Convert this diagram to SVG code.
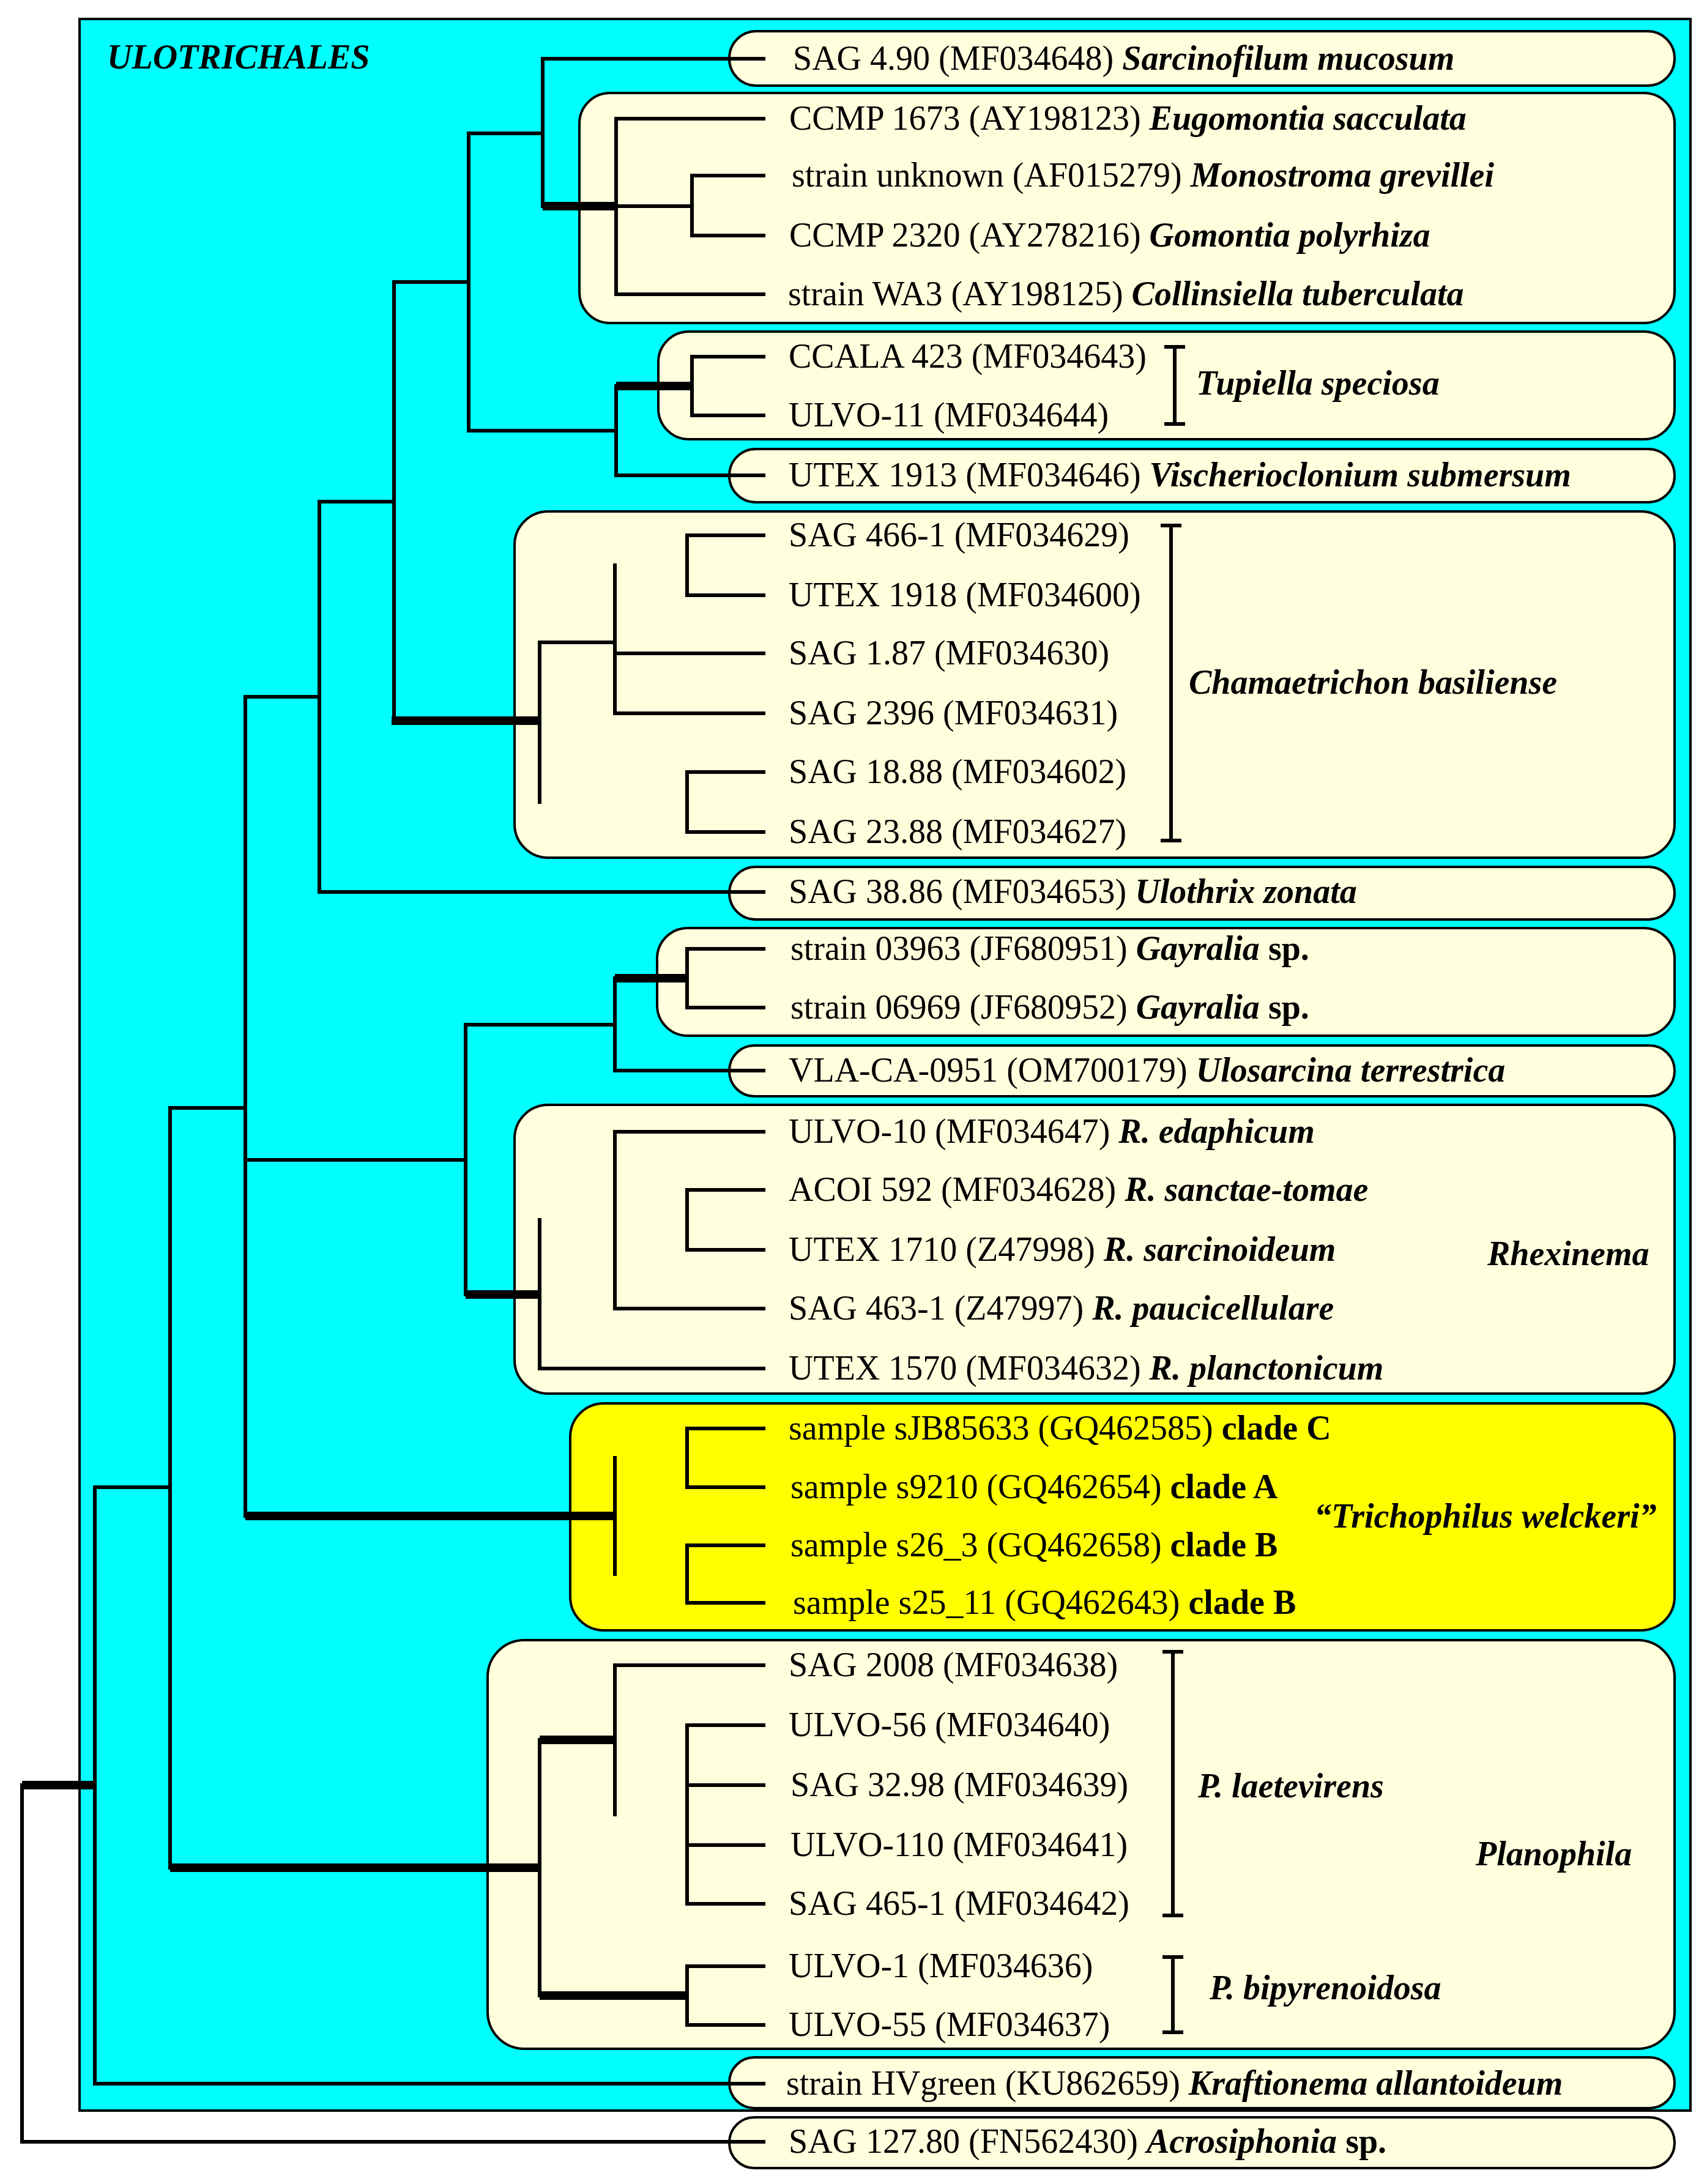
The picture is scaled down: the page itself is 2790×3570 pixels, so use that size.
<svg xmlns="http://www.w3.org/2000/svg" width="2790" height="3570" viewBox="0 0 2790 3570">
<style>
.box{fill:#FFFFDD;stroke:#000;stroke-width:4}
.ybox{fill:#FFFF00;stroke:#000;stroke-width:4}
.t{font-family:"Liberation Serif",serif;font-size:56px;fill:#000}
.s{font-weight:bold;font-style:italic}
.b{font-weight:bold}
.e path{fill:none;stroke:#000;stroke-width:6;stroke-linecap:square}
.e .k{stroke-width:14;stroke-linecap:butt}
</style>
<rect x="0" y="0" width="2790" height="3570" fill="#fff"/>
<rect id="ulotrichales" x="130" y="31" width="2633" height="3419" fill="#00FFFF" stroke="#000" stroke-width="4"/>
<text class="t s" x="175" y="112">ULOTRICHALES</text>
<g id="boxes">
<rect id="bA" class="box" x="1192" y="51" width="1545" height="89" rx="44"/>
<rect id="bB" class="box" x="947" y="152" width="1790" height="376" rx="50"/>
<rect id="bC" class="box" x="1076" y="542" width="1661" height="176" rx="50"/>
<rect id="bD" class="box" x="1192" y="734" width="1545" height="87" rx="43"/>
<rect id="bE" class="box" x="841" y="836" width="1896" height="566" rx="55"/>
<rect id="bF" class="box" x="1192" y="1417" width="1545" height="86" rx="43"/>
<rect id="bG" class="box" x="1074" y="1517" width="1663" height="176" rx="50"/>
<rect id="bH" class="box" x="1192" y="1709" width="1545" height="83" rx="41"/>
<rect id="bI" class="box" x="841" y="1806" width="1896" height="472" rx="55"/>
<rect id="bJ" class="ybox" x="932" y="2294" width="1805" height="371" rx="55"/>
<rect id="bK" class="box" x="797" y="2681" width="1940" height="668" rx="60"/>
<rect id="bL" class="box" x="1192" y="3363" width="1545" height="83" rx="41"/>
<rect id="bM" class="box" x="1192" y="3461" width="1545" height="83" rx="41"/>
</g>
<g id="connectors" class="e">
<path d="M887,96V337M1007,194V481M1131,287V385M1131,583V679M1007,631V777M766,218V704M882,1050V1311M1005,924V1166M1123,875V973M1123,1262V1360M644,461V1178M522,820V1458M1123,1551V1647M1005,1599V1750M1123,1945V2043M1005,1850V2139M882,1994V2237M761,1675V2116M1123,2335V2431M1123,2526V2620M1005,2383V2573M401,1139V2478M1123,2820V3112M1005,2722V2966M1123,3214V3310M882,2844V3262M278,1811V3053M155,2431V3406M36,2918V3501"/>
<path d="M766,218H887M1007,337H1131M1007,704H766M644,461H766M522,820H644M401,1139H522M761,1675H1005M278,1811H401M882,1050H1005M401,1896H761M155,2431H278"/>
<path class="k" d="M887,337H1007M1007,631H1131M640,1178H882M1005,1599H1123M761,2116H882M401,2478H1005M882,2844H1005M882,3262H1123M278,3053H882M36,2918H155"/>
<path d="M887,96H1248M1007,194H1248M1131,287H1248M1131,385H1248M1007,481H1248M1131,583H1248M1131,679H1248M1007,777H1248M1123,875H1248M1123,973H1248M1005,1068H1248M1005,1166H1248M1123,1262H1248M1123,1360H1248M522,1458H1248M1123,1551H1248M1123,1647H1248M1005,1750H1248M1005,1850H1248M1123,1945H1248M1123,2043H1248M1005,2139H1248M882,2237H1248M1123,2335H1248M1123,2431H1248M1123,2526H1248M1123,2620H1248M1005,2722H1248M1123,2820H1248M1123,2918H1248M1123,3016H1248M1123,3112H1248M1123,3214H1248M1123,3310H1248M155,3406H1248M36,3501H1248"/>
<path d="M1920,567V693M1906,567H1934M1906,693H1934M1914,859V1374M1900,859H1928M1900,1374H1928M1917,2700V3131M1903,2700H1931M1903,3131H1931M1917,3199V3322M1903,3199H1931M1903,3322H1931"/>
</g>
<g id="labels" class="t">
<text x="1296" y="114">SAG 4.90 (MF034648) <tspan class="s">Sarcinofilum mucosum</tspan></text>
<text x="1290" y="212">CCMP 1673 (AY198123) <tspan class="s">Eugomontia sacculata</tspan></text>
<text x="1294" y="305">strain unknown (AF015279) <tspan class="s">Monostroma grevillei</tspan></text>
<text x="1290" y="403">CCMP 2320 (AY278216) <tspan class="s">Gomontia polyrhiza</tspan></text>
<text x="1288" y="499">strain WA3 (AY198125) <tspan class="s">Collinsiella tuberculata</tspan></text>
<text x="1289" y="601">CCALA 423 (MF034643)</text>
<text x="1289" y="697">ULVO-11 (MF034644)</text>
<text x="1955" y="645" class="s">Tupiella speciosa</text>
<text x="1289" y="795">UTEX 1913 (MF034646) <tspan class="s">Vischerioclonium submersum</tspan></text>
<text x="1289" y="893">SAG 466-1 (MF034629)</text>
<text x="1289" y="991">UTEX 1918 (MF034600)</text>
<text x="1289" y="1086">SAG 1.87 (MF034630)</text>
<text x="1289" y="1184">SAG 2396 (MF034631)</text>
<text x="1289" y="1280">SAG 18.88 (MF034602)</text>
<text x="1289" y="1378">SAG 23.88 (MF034627)</text>
<text x="1943" y="1134" class="s">Chamaetrichon basiliense</text>
<text x="1289" y="1476">SAG 38.86 (MF034653) <tspan class="s">Ulothrix zonata</tspan></text>
<text x="1292" y="1569">strain 03963 (JF680951) <tspan class="s">Gayralia</tspan><tspan class="b"> sp.</tspan></text>
<text x="1292" y="1665">strain 06969 (JF680952) <tspan class="s">Gayralia</tspan><tspan class="b"> sp.</tspan></text>
<text x="1289" y="1768">VLA-CA-0951 (OM700179) <tspan class="s">Ulosarcina terrestrica</tspan></text>
<text x="1289" y="1868">ULVO-10 (MF034647) <tspan class="s">R. edaphicum</tspan></text>
<text x="1289" y="1963">ACOI 592 (MF034628) <tspan class="s">R. sanctae-tomae</tspan></text>
<text x="1289" y="2061">UTEX 1710 (Z47998) <tspan class="s">R. sarcinoideum</tspan></text>
<text x="1289" y="2157">SAG 463-1 (Z47997) <tspan class="s">R. paucicellulare</tspan></text>
<text x="1289" y="2255">UTEX 1570 (MF034632) <tspan class="s">R. planctonicum</tspan></text>
<text x="2431" y="2068" class="s">Rhexinema</text>
<text x="1289" y="2353">sample sJB85633 (GQ462585) <tspan class="b">clade C</tspan></text>
<text x="1292" y="2449">sample s9210 (GQ462654) <tspan class="b">clade A</tspan></text>
<text x="1292" y="2544">sample s26_3 (GQ462658) <tspan class="b">clade B</tspan></text>
<text x="1296" y="2638">sample s25_11 (GQ462643) <tspan class="b">clade B</tspan></text>
<text x="2148" y="2497" class="s">“Trichophilus welckeri”</text>
<text x="1289" y="2740">SAG 2008 (MF034638)</text>
<text x="1289" y="2838">ULVO-56 (MF034640)</text>
<text x="1292" y="2936">SAG 32.98 (MF034639)</text>
<text x="1292" y="3034">ULVO-110 (MF034641)</text>
<text x="1289" y="3130">SAG 465-1 (MF034642)</text>
<text x="1289" y="3232">ULVO-1 (MF034636)</text>
<text x="1289" y="3328">ULVO-55 (MF034637)</text>
<text x="1958" y="2938" class="s">P. laetevirens</text>
<text x="1977" y="3268" class="s">P. bipyrenoidosa</text>
<text x="2412" y="3049" class="s">Planophila</text>
<text x="1285" y="3424">strain HVgreen (KU862659) <tspan class="s">Kraftionema allantoideum</tspan></text>
<text x="1289" y="3519">SAG 127.80 (FN562430) <tspan class="s">Acrosiphonia</tspan><tspan class="b"> sp.</tspan></text>
</g>
</svg>
